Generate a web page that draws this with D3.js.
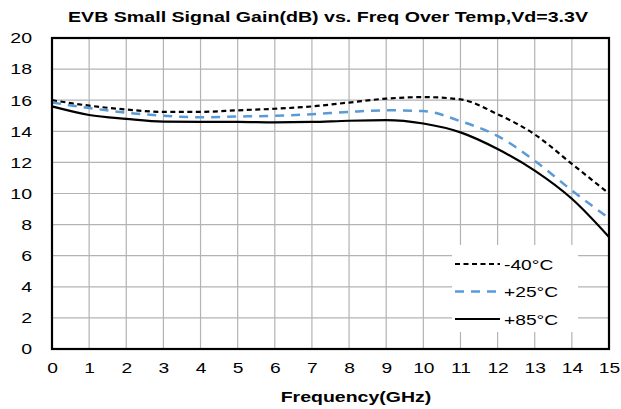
<!DOCTYPE html>
<html>
<head>
<meta charset="utf-8">
<script src="https://cdn.jsdelivr.net/npm/d3@7"></script>
<style>
  body { margin: 0; background: #fff; }
  text { font-family: "Liberation Sans", Arial, sans-serif; fill: #000; }
</style>
</head>
<body>
<script>
// frequency points (GHz)
const freq = [0, 1, 2, 3, 4, 5, 6, 7, 8, 9, 10, 11, 12, 13, 14, 15];
// gain (dB) per temperature
const gainM40 = [16.0, 15.65, 15.4, 15.25, 15.25, 15.35, 15.45, 15.6, 15.85, 16.1, 16.2, 16.05, 15.1, 13.8, 11.9, 10.0];
const gainP25 = [15.85, 15.5, 15.2, 15.0, 14.9, 14.95, 15.0, 15.1, 15.25, 15.35, 15.3, 14.65, 13.7, 12.1, 10.2, 8.4];
const gainP85 = [15.6, 15.05, 14.8, 14.62, 14.6, 14.6, 14.57, 14.6, 14.68, 14.72, 14.5, 13.93, 12.86, 11.47, 9.66, 7.2];
const seriesNames = ["-40°C", "+25°C", "+85°C"];
const xTicks = d3.range(0, 16, 1);
const yTicks = d3.range(0, 21, 2);

const W = 621, H = 409;
const m = {left: 52, right: 12, top: 38, bottom: 60};

const svg = d3.select("body").append("svg")
    .attr("width", W)
    .attr("height", H);

const x = d3.scaleLinear().domain([0, 15]).range([m.left, W - m.right]);
const y = d3.scaleLinear().domain([0, 20]).range([H - m.bottom, m.top]);

// the original text is drawn wider than the font, stretch it a bit
function stretch(sel, k) {
    sel.each(function() {
        const w = this.getComputedTextLength();
        d3.select(this).attr("textLength", w * k).attr("lengthAdjust", "spacingAndGlyphs");
    });
}

// grid
svg.append("g").selectAll("line.v")
    .data(xTicks.slice(1, -1)).join("line")
    .attr("x1", d => x(d)).attr("x2", d => x(d))
    .attr("y1", y(0)).attr("y2", y(20))
    .style("stroke", "#b3b3b3").style("stroke-width", 1.2);
svg.append("g").selectAll("line.h")
    .data(yTicks.slice(1, -1)).join("line")
    .attr("x1", x(0)).attr("x2", x(15))
    .attr("y1", d => y(d)).attr("y2", d => y(d))
    .style("stroke", "#b3b3b3").style("stroke-width", 1.2);

// axes (labels only)
const xAxis = svg.append("g")
    .attr("transform", `translate(0,${y(0) + 9})`)
    .call(d3.axisBottom(x).tickValues(xTicks).tickSize(0).tickPadding(4));
xAxis.select(".domain").remove();
xAxis.selectAll("text").style("font-size", "15px").style("font-family", "Liberation Sans, Arial, sans-serif")
    .call(stretch, 1.28);

const yAxis = svg.append("g")
    .attr("transform", `translate(${x(0) - 20},0)`)
    .call(d3.axisLeft(y).tickValues(yTicks).tickSize(0).tickPadding(0));
yAxis.select(".domain").remove();
yAxis.selectAll("text").style("font-size", "15px").style("font-family", "Liberation Sans, Arial, sans-serif")
    .call(stretch, 1.3);

// lines
const line = d3.line().x(d => x(d[0])).y(d => y(d[1])).curve(d3.curveMonotoneX);
const styles = [
    {color: "#000", dash: "5,3.5", width: 2.2},
    {color: "#5b9bd5", dash: "9,7", width: 2.5},
    {color: "#000", dash: null, width: 2.2}
];
[gainM40, gainP25, gainP85].forEach((g, i) => {
    svg.append("path")
        .datum(freq.map((f, j) => [f, g[j]]))
        .attr("d", line)
        .style("fill", "none")
        .style("stroke", styles[i].color)
        .style("stroke-width", styles[i].width)
        .style("stroke-dasharray", styles[i].dash);
});

// frame
svg.append("rect")
    .attr("x", x(0)).attr("y", y(20))
    .attr("width", x(15) - x(0)).attr("height", y(0) - y(20))
    .style("fill", "none").style("stroke", "#000").style("stroke-width", 2.2);

// legend
const lg = svg.append("g");
lg.append("rect")
    .attr("x", 452).attr("y", 245).attr("width", 126).attr("height", 87)
    .style("fill", "#fff");
seriesNames.forEach((n, i) => {
    const ly = 264 + i * 27.5;
    lg.append("line")
        .attr("x1", 455).attr("x2", 500).attr("y1", ly).attr("y2", ly)
        .style("stroke", styles[i].color)
        .style("stroke-width", styles[i].width)
        .style("stroke-dasharray", styles[i].dash);
    lg.append("text")
        .attr("x", 504).attr("y", ly + 5.5)
        .text(n)
        .style("font-size", "15px")
        .call(stretch, 1.28);
});

// titles
svg.append("text")
    .attr("x", 328).attr("y", 22)
    .attr("text-anchor", "middle")
    .attr("textLength", 520)
    .attr("lengthAdjust", "spacingAndGlyphs")
    .style("font-size", "14px").style("font-weight", "bold")
    .text("EVB Small Signal Gain(dB) vs. Freq Over Temp,Vd=3.3V");

svg.append("text")
    .attr("x", 356).attr("y", 402)
    .attr("text-anchor", "middle")
    .style("font-size", "15px").style("font-weight", "bold")
    .text("Frequency(GHz)")
    .call(stretch, 1.3);
</script>
</body>
</html>
